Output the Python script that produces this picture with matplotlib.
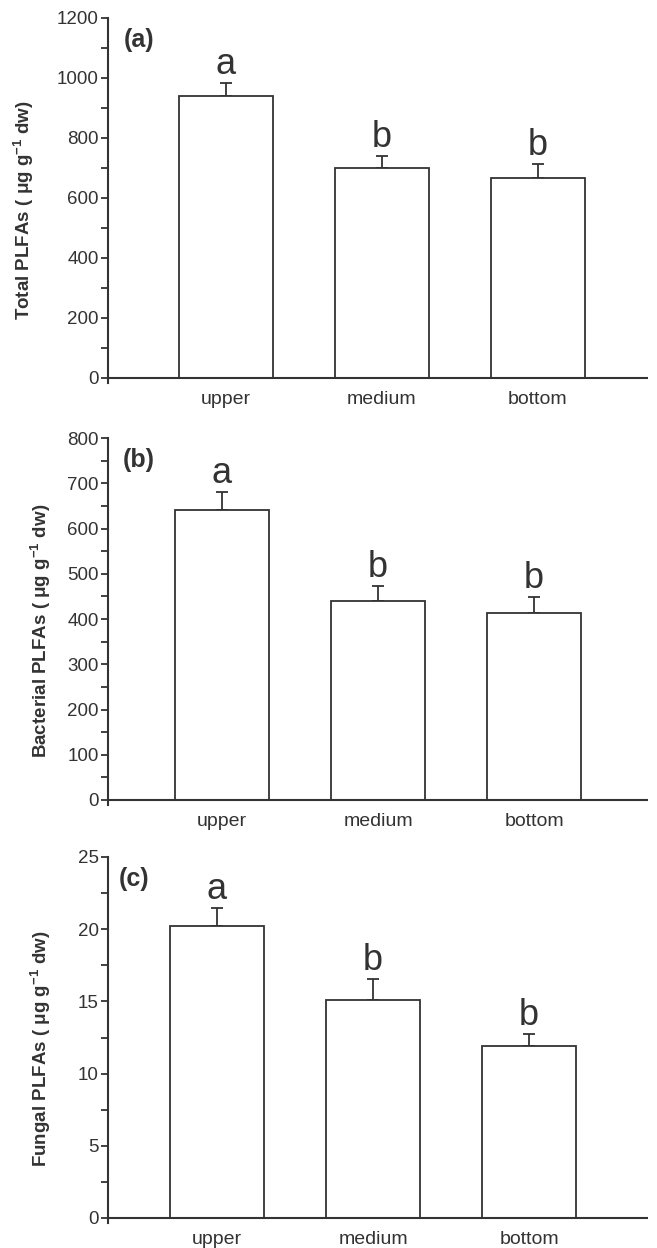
import matplotlib.pyplot as plt
from matplotlib.ticker import MultipleLocator

# data
sites = ["upper", "medium", "bottom"]
total_plfa = [940, 700, 668]
total_se = [44, 40, 44]
bacterial_plfa = [641, 440, 413]
bacterial_se = [39, 33, 36]
fungal_plfa = [20.2, 15.1, 11.9]
fungal_se = [1.25, 1.45, 0.85]
letters_total = ["a", "b", "b"]
letters_bacterial = ["a", "b", "b"]
letters_fungal = ["a", "b", "b"]

INK = "#333333"
plt.rcParams["font.family"] = ["Liberation Sans", "DejaVu Sans"]
plt.rcParams["mathtext.fontset"] = "custom"
plt.rcParams["mathtext.rm"] = "Liberation Sans"
plt.rcParams["mathtext.bf"] = "Liberation Sans:bold"

W, H = 657, 1248
panels = [
    dict(vals=total_plfa, err=total_se, letters=letters_total, tag="(a)",
         ylabel="Total PLFAs ( μg g$^{\\mathbf{-1}}$ dw)", top=1200, major=200,
         px=(18, 378), x0=0.756, tagx=0.03, labx=-0.133),
    dict(vals=bacterial_plfa, err=bacterial_se, letters=letters_bacterial, tag="(b)",
         ylabel="Bacterial PLFAs ( μg g$^{\\mathbf{-1}}$ dw)", top=800, major=100,
         px=(438, 800), x0=0.731, tagx=0.028, labx=-0.102),
    dict(vals=fungal_plfa, err=fungal_se, letters=letters_fungal, tag="(c)",
         ylabel="Fungal PLFAs ( μg g$^{\\mathbf{-1}}$ dw)", top=25, major=5,
         px=(857, 1218), x0=0.699, tagx=0.02, labx=-0.102),
]

fig = plt.figure(figsize=(W / 100, H / 100), dpi=100)
left, right = 108, 648
ext = 5  # spine runs a few px below the zero line
for p in panels:
    ptop, pzero = p["px"]
    rect = [left / W, 1 - (pzero + ext) / H, (right - left) / W, (pzero + ext - ptop) / H]
    ax = fig.add_axes(rect)
    x = list(range(len(sites)))
    ax.bar(x, p["vals"], width=0.6, color="white", edgecolor=INK, linewidth=1.3, zorder=2)
    ax.errorbar(x, p["vals"], yerr=[[0] * len(x), p["err"]], fmt="none",
                ecolor=INK, elinewidth=1.3, capsize=4, capthick=1.3, zorder=1)
    top = p["top"]
    ax.set_ylim(-top * ext / (pzero - ptop), top)
    span = (right - left) / 156
    ax.set_xlim(-p["x0"], -p["x0"] + span)
    for xi, v, e, lt in zip(x, p["vals"], p["err"], p["letters"]):
        ax.annotate(lt, (xi, v + e), xytext=(0, 6.5), textcoords="offset points",
                    ha="center", va="baseline", fontsize=26, color=INK)
    ax.axhline(0, color=INK, linewidth=1.5, zorder=3)
    ax.spines["top"].set_visible(False)
    ax.spines["right"].set_visible(False)
    ax.spines["bottom"].set_visible(False)
    ax.spines["left"].set_color(INK)
    ax.spines["left"].set_linewidth(1.5)
    ax.yaxis.set_major_locator(MultipleLocator(p["major"]))
    ax.yaxis.set_minor_locator(MultipleLocator(p["major"] / 2))
    ax.tick_params(axis="y", which="both", direction="out", length=5, width=1.3,
                   color=INK, labelcolor=INK, labelsize=13.5, pad=1.5)
    ax.tick_params(axis="x", length=0, labelsize=14, labelcolor=INK, pad=5.5)
    ax.set_xticks(x)
    ax.set_xticklabels(sites)
    ax.set_ylabel(p["ylabel"], fontsize=13.5, fontweight="bold", color=INK)
    ax.yaxis.set_label_coords(p["labx"], 0.475)
    ax.text(p["tagx"], 0.972, p["tag"], transform=ax.transAxes, fontsize=18,
            fontweight="bold", color=INK, ha="left", va="top")

fig.savefig("out.png", dpi=100)
